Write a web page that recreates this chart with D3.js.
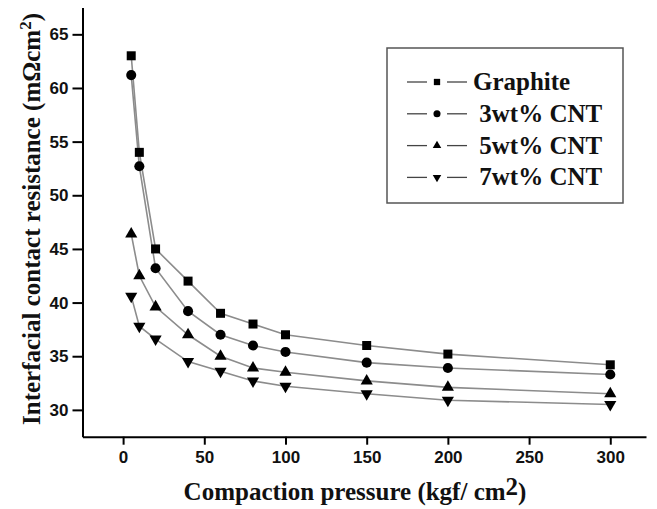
<!DOCTYPE html>
<html>
<head>
<meta charset="utf-8">
<script src="https://cdn.jsdelivr.net/npm/d3@7"></script>
<style>
  body { margin: 0; background: #fff; }
  svg { display: block; }
  .tick text { font-family: "Liberation Sans", Arial, sans-serif; font-weight: bold; font-size: 17px; fill: #111; }
  .title { font-family: "Liberation Serif", "Times New Roman", serif; font-weight: bold; font-size: 25px; fill: #111; }
  .leg { font-family: "Liberation Serif", "Times New Roman", serif; font-weight: bold; font-size: 25px; fill: #111; white-space: pre; }
</style>
</head>
<body>
<div id="chart"></div>
<script>
// pressure (kgf/cm2)
var pressure = [5, 10, 20, 40, 60, 80, 100, 150, 200, 300];

var graphite = [63.0, 54.0, 45.0, 42.0, 39.0, 38.0, 37.0, 36.0, 35.2, 34.2];
var cnt3 = [61.2, 52.7, 43.2, 39.2, 37.0, 36.0, 35.4, 34.4, 33.9, 33.3];
var cnt5 = [46.4, 42.5, 39.6, 37.0, 35.0, 33.9, 33.5, 32.7, 32.1, 31.5];
var cnt7 = [40.6, 37.8, 36.6, 34.5, 33.6, 32.7, 32.2, 31.5, 30.9, 30.5];

var seriesNames = ["Graphite", " 3wt% CNT", " 5wt% CNT", " 7wt% CNT"];
var seriesVals = [graphite, cnt3, cnt5, cnt7];
var shapes = ["square", "circle", "up", "down"];

var xTicks = [0, 50, 100, 150, 200, 250, 300];
var xMinor = [-25, 25, 75, 125, 175, 225, 275];
var yTicks = [30, 35, 40, 45, 50, 55, 60, 65];
var yMinor = [27.5, 32.5, 37.5, 42.5, 47.5, 52.5, 57.5, 62.5, 67.5];

var W = 657, H = 509;
var svg = d3.select("#chart").append("svg").attr("width", W).attr("height", H);

var x = d3.scaleLinear().domain([-25, 322]).range([82.5, 646]);
var y = d3.scaleLinear().domain([27.5, 67.5]).range([436.7, 7.5]);

function markerPath(shape, big) {
  var k = big ? 1 : 0.7;
  if (shape == "square") return d3.symbol().type(d3.symbolSquare).size(81 * k * k)();
  if (shape == "circle") return d3.symbol().type(d3.symbolCircle).size(80 * k * k)();
  return d3.symbol().type(d3.symbolTriangle).size(64 * k * k)();
}

// lines
var line = d3.line()
  .x(function(d) { return x(d[0]); })
  .y(function(d) { return y(d[1]); });

seriesVals.forEach(function(vals, i) {
  var pts = pressure.map(function(p, j) { return [p, vals[j]]; });
  svg.append("path")
    .datum(pts)
    .attr("d", line)
    .attr("fill", "none")
    .attr("stroke", "#8c8c8c")
    .attr("stroke-width", 1.6);
});

seriesVals.forEach(function(vals, i) {
  var pts = pressure.map(function(p, j) { return [p, vals[j]]; });
  svg.selectAll(".m" + i)
    .data(pts)
    .enter()
    .append("path")
    .attr("class", "m" + i)
    .attr("d", markerPath(shapes[i], true))
    .attr("transform", function(d) {
      return "translate(" + x(d[0]) + "," + y(d[1]) + ")" + (shapes[i] == "down" ? " rotate(180)" : "");
    })
    .attr("fill", "#000");
});

// axes
var gx = svg.append("g").attr("transform", "translate(0," + y.range()[0] + ")");
gx.call(d3.axisBottom(x).tickValues(xMinor).tickSize(5).tickFormat(""));
gx.call(d3.axisBottom(x).tickValues(xTicks).tickSize(8).tickSizeOuter(0).tickPadding(6));
gx.selectAll(".domain").attr("stroke-width", 2);
gx.selectAll(".tick line").attr("stroke-width", 2);

var gy = svg.append("g").attr("transform", "translate(" + x.range()[0] + ",0)");
gy.call(d3.axisLeft(y).tickValues(yMinor).tickSize(5).tickFormat(""));
gy.call(d3.axisLeft(y).tickValues(yTicks).tickSize(10).tickSizeOuter(0).tickPadding(4));
gy.selectAll(".domain").attr("stroke-width", 2);
gy.selectAll(".tick line").attr("stroke-width", 2);

// axis titles
svg.append("text")
  .attr("class", "title")
  .attr("transform", "translate(40," + 219 + ") rotate(-90)")
  .attr("text-anchor", "middle")
  .html('Interfacial contact resistance (m\u03A9cm<tspan dy="-9" font-size="17">2</tspan><tspan dy="9">)</tspan>');

svg.append("text")
  .attr("class", "title")
  .attr("x", 355)
  .attr("y", 500)
  .attr("text-anchor", "middle")
  .html('Compaction pressure (kgf/ cm<tspan dy="-5">2</tspan><tspan dy="5">)</tspan>');

// legend
var leg = svg.append("g");
leg.append("rect")
  .attr("x", 387).attr("y", 48)
  .attr("width", 236).attr("height", 155)
  .attr("fill", "#fff")
  .attr("stroke", "#555")
  .attr("stroke-width", 1.5);

seriesNames.forEach(function(name, i) {
  var cy = 82 + i * 31.8;
  var g = leg.append("g");
  g.append("line").attr("x1", 407).attr("x2", 427).attr("y1", cy).attr("y2", cy)
    .attr("stroke", "#444").attr("stroke-width", 1.3);
  g.append("line").attr("x1", 447).attr("x2", 467).attr("y1", cy).attr("y2", cy)
    .attr("stroke", "#444").attr("stroke-width", 1.3);
  g.append("path")
    .attr("d", markerPath(shapes[i], false))
    .attr("transform", "translate(437," + cy + ")" + (shapes[i] == "down" ? " rotate(180)" : ""))
    .attr("fill", "#000");
  g.append("text")
    .attr("class", "leg")
    .attr("x", 473)
    .attr("y", cy + 8)
    .text(name);
});
</script>
</body>
</html>
